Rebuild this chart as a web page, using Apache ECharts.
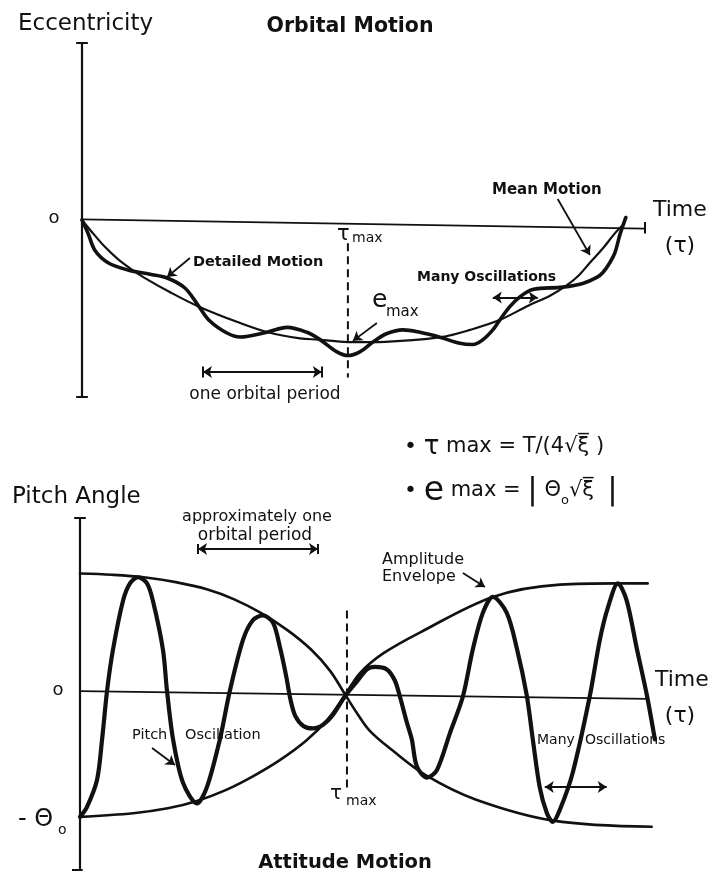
<!DOCTYPE html>
<html>
<head>
<meta charset="utf-8">
<script src="https://cdn.jsdelivr.net/npm/echarts@6.0.0/dist/echarts.min.js"></script>
<style>
html,body{margin:0;padding:0;background:#fff;}
#chart{width:711px;height:877px;}
</style>
</head>
<body>
<div id="chart"></div>
<script>
// ---------- Orbital motion (top panel): time tau (tau_max = 1), eccentricity (e_max = -1)
const meanTau = [0, 0.034, 0.086, 0.135, 0.19, 0.24, 0.33, 0.44, 0.59, 0.70, 0.82, 0.89, 1.0, 1.09, 1.20, 1.35, 1.46, 1.57, 1.68, 1.76, 1.82, 1.87, 1.91, 1.96, 2.00, 2.03];
const meanEcc = [0, -0.09, -0.22, -0.32, -0.41, -0.48, -0.59, -0.71, -0.84, -0.92, -0.97, -0.98, -1.0, -1.0, -0.99, -0.96, -0.90, -0.82, -0.70, -0.62, -0.54, -0.45, -0.35, -0.23, -0.12, -0.05];

const detailTau = [0, 0.023, 0.049, 0.098, 0.173, 0.256, 0.32, 0.387, 0.436, 0.481, 0.545, 0.594, 0.695, 0.771, 0.846, 0.895, 0.959, 1.0, 1.045, 1.094, 1.147, 1.207, 1.271, 1.346, 1.421, 1.47, 1.508, 1.545, 1.571, 1.609, 1.647, 1.695, 1.808, 1.883, 1.936, 1.959, 1.985, 2.004, 2.023, 2.045];
const detailEcc = [0, -0.11, -0.25, -0.35, -0.41, -0.445, -0.475, -0.557, -0.697, -0.828, -0.926, -0.959, -0.92, -0.88, -0.92, -0.98, -1.08, -1.11, -1.08, -1.0, -0.93, -0.90, -0.92, -0.96, -1.01, -1.02, -0.98, -0.90, -0.82, -0.71, -0.63, -0.57, -0.55, -0.52, -0.47, -0.43, -0.35, -0.27, -0.12, 0.02];

// ---------- Attitude motion (bottom panel): time tau, pitch angle (Theta_o = 1)
const envATau = [0, 0.12, 0.24, 0.36, 0.48, 0.58, 0.68, 0.78, 0.87, 0.94, 0.996, 1.04, 1.09, 1.17, 1.30, 1.49, 1.78, 2.15];
const envATheta = [0.98, 0.97, 0.95, 0.91, 0.85, 0.77, 0.66, 0.52, 0.36, 0.19, 0.0, -0.15, -0.30, -0.45, -0.66, -0.86, -1.03, -1.08];

const envBTau = [0, 0.2, 0.33, 0.44, 0.55, 0.65, 0.75, 0.85, 0.93, 0.996, 1.053, 1.14, 1.278, 1.553, 1.805, 2.02, 2.135];
const envBTheta = [-1.0, -0.97, -0.93, -0.87, -0.78, -0.67, -0.54, -0.38, -0.21, -0.01, 0.17, 0.33, 0.50, 0.79, 0.89, 0.90, 0.90];

const pitchTau = [0, 0.026, 0.064, 0.083, 0.102, 0.124, 0.162, 0.188, 0.218, 0.252, 0.274, 0.312, 0.327, 0.35, 0.387, 0.44, 0.477, 0.526, 0.564, 0.613, 0.65, 0.688, 0.726, 0.752, 0.775, 0.792, 0.81, 0.84, 0.876, 0.914, 0.951, 0.996, 1.041, 1.079, 1.109, 1.154, 1.184, 1.203, 1.229, 1.248, 1.267, 1.305, 1.342, 1.391, 1.44, 1.477, 1.515, 1.553, 1.605, 1.643, 1.68, 1.703, 1.729, 1.756, 1.778, 1.805, 1.853, 1.917, 1.955, 1.985, 2.023, 2.056, 2.094, 2.132, 2.162];
const pitchTheta = [-1.0, -0.92, -0.70, -0.37, 0.03, 0.36, 0.76, 0.90, 0.95, 0.90, 0.76, 0.36, 0.03, -0.37, -0.72, -0.89, -0.76, -0.37, 0.03, 0.44, 0.60, 0.64, 0.58, 0.38, 0.15, -0.05, -0.18, -0.26, -0.28, -0.25, -0.17, -0.02, 0.10, 0.20, 0.22, 0.20, 0.11, -0.02, -0.23, -0.37, -0.59, -0.68, -0.62, -0.32, -0.02, 0.36, 0.66, 0.79, 0.66, 0.37, -0.01, -0.37, -0.76, -0.97, -1.04, -0.94, -0.64, -0.02, 0.44, 0.70, 0.90, 0.76, 0.37, -0.01, -0.37];

// axis extents (data units)
const topAxisTau = [0, 2.117];
const topAxisEcc = [0.005, -0.07];
const botAxisTau = [0, 2.135];
const botAxisTheta = [0.024, -0.04];
const tauMax = 1.0;

const zip = (a, b) => a.map((v, i) => [v, b[i]]);
const INK = '#111';
const FONT = 'DejaVu Sans';

function curve(idx, data, width, extra) {
  return Object.assign({
    type: 'line', xAxisIndex: idx, yAxisIndex: idx, data: data,
    showSymbol: false, symbol: 'none', smooth: 0.35, silent: true, clip: false,
    lineStyle: { color: INK, width: width, cap: 'round', join: 'round' }, z: 3
  }, extra || {});
}
function segs(idx, list, width, sym, extra) {
  return Object.assign({
    type: 'lines', coordinateSystem: 'cartesian2d', xAxisIndex: idx, yAxisIndex: idx,
    symbol: sym, symbolSize: 9, silent: true, clip: false,
    lineStyle: { color: INK, width: width, opacity: 1, curveness: 0 },
    data: list.map(c => ({ coords: c })), z: 4
  }, extra || {});
}
function txt(x, y, s, size, o) {
  o = o || {};
  return {
    type: 'text', x: x, y: y, silent: true, z: 10,
    style: {
      text: s, fontSize: size, fontFamily: FONT, fontWeight: o.w || 'normal',
      fill: INK, align: o.a || 'left', verticalAlign: 'middle',
      textAlign: o.a || 'left', textVerticalAlign: 'middle', rich: o.rich
    }
  };
}

const series = [
  // top panel axes
  curve(0, [[0, 1.45], [0, -1.45]], 2.2, { smooth: false }),
  curve(0, zip(topAxisTau, topAxisEcc), 1.8, { smooth: false }),
  curve(0, [[tauMax, -0.19], [tauMax, -1.29]], 2, { smooth: false, lineStyle: { color: INK, width: 2, type: [8, 5] } }),
  // top curves
  curve(0, zip(meanTau, meanEcc), 2.2),
  curve(0, zip(detailTau, detailEcc), 3.6),
  // bottom panel axes
  curve(1, [[0, 1.43], [0, -1.43]], 2.2, { smooth: false }),
  curve(1, zip(botAxisTau, botAxisTheta), 1.8, { smooth: false }),
  curve(1, [[tauMax + 0.004, 0.68], [tauMax + 0.004, -0.78]], 2, { smooth: false, lineStyle: { color: INK, width: 2, type: [8, 5] } }),
  // bottom curves
  curve(1, zip(envATau, envATheta), 2.6),
  curve(1, zip(envBTau, envBTheta), 2.6),
  curve(1, zip(pitchTau, pitchTheta), 4.2, { smooth: 0.3 }),
  // axis end ticks and bar end ticks
  segs(0, [[[-0.022, 1.45], [0.022, 1.45]], [[-0.022, -1.45], [0.022, -1.45]], [[topAxisTau[1], -0.016], [topAxisTau[1], -0.11]],
           [[0.455, -1.2], [0.455, -1.29]], [[0.902, -1.2], [0.902, -1.29]]], 2, ['none', 'none']),
  segs(1, [[[-0.022, 1.43], [0.022, 1.43]], [[-0.03, -1.43], [0.01, -1.43]],
           [[0.444, 1.14], [0.444, 1.22]], [[0.895, 1.14], [0.895, 1.22]]], 2, ['none', 'none']),
  // annotation arrows
  segs(0, [[[0.406, -0.311], [0.320, -0.467]], [[1.109, -0.844], [1.019, -0.99]], [[1.789, 0.172], [1.910, -0.287]]], 1.8, ['none', 'arrow']),
  segs(0, [[[0.455, -1.246], [0.902, -1.246]], [[1.545, -0.635], [1.714, -0.635]]], 1.8, ['arrow', 'arrow']),
  segs(1, [[[1.44, 0.984], [1.523, 0.870]], [[0.271, -0.439], [0.357, -0.577]]], 1.8, ['none', 'arrow']),
  segs(1, [[[0.444, 1.179], [0.895, 1.179]], [[1.748, -0.756], [1.981, -0.756]]], 1.8, ['arrow', 'arrow'])
];

const graphics = [
  // top panel
  txt(18, 24, 'Eccentricity', 23),
  txt(350, 27, 'Orbital Motion', 20.5, { w: 'bold', a: 'center' }),
  txt(54, 218, 'o', 18, { a: 'center' }),
  txt(337, 235, 'τ', 21),
  txt(352, 238, 'max', 14),
  txt(193, 262, 'Detailed Motion', 14.5, { w: 'bold' }),
  txt(492, 190, 'Mean Motion', 15, { w: 'bold' }),
  txt(417, 277, 'Many Oscillations', 14, { w: 'bold' }),
  txt(372, 300, 'e', 25),
  txt(386, 312, 'max', 15),
  txt(265, 395, 'one orbital period', 17, { a: 'center' }),
  txt(653, 210, 'Time', 22),
  txt(680, 246, '(τ)', 22, { a: 'center' }),
  // formulas
  txt(404, 447, '{b|•} {t|τ} max = T/(4√ξ̅ )', 21, { rich: { b: { fontSize: 22, fontFamily: FONT }, t: { fontSize: 26, fontFamily: FONT } } }),
  txt(404, 491, '{b|•} {e|e} max = {v||} Θ{s|o}√ξ̅  {v||}', 21, { rich: { b: { fontSize: 22, fontFamily: FONT }, e: { fontSize: 33, fontFamily: FONT }, v: { fontSize: 31, fontFamily: FONT }, s: { fontSize: 13, fontFamily: FONT, verticalAlign: 'bottom' } } }),
  // bottom panel
  txt(12, 497, 'Pitch Angle', 23),
  txt(257, 517, 'approximately one', 16, { a: 'center' }),
  txt(255, 536, 'orbital period', 17, { a: 'center' }),
  txt(382, 560, 'Amplitude', 16),
  txt(382, 577, 'Envelope', 16),
  txt(58, 690, 'o', 18, { a: 'center' }),
  txt(18, 820, '- Θ', 24),
  txt(58, 830, 'o', 14),
  txt(132, 735, 'Pitch', 14.5),
  txt(185, 735, 'Oscillation', 14.5),
  txt(330, 794, 'τ', 20),
  txt(346, 801, 'max', 14),
  txt(537, 740, 'Many', 14),
  txt(585, 740, 'Oscillations', 14),
  txt(655, 680, 'Time', 22),
  txt(680, 716, '(τ)', 22, { a: 'center' }),
  txt(345, 863, 'Attitude Motion', 19.5, { w: 'bold', a: 'center' })
];

const chart = echarts.init(document.getElementById('chart'), null, { renderer: 'canvas' });
chart.setOption({
  animation: false,
  backgroundColor: '#fff',
  grid: [
    { left: 82, top: 43, width: 577, height: 354 },
    { left: 80, top: 517, width: 577, height: 354 }
  ],
  xAxis: [
    { type: 'value', gridIndex: 0, min: 0, max: 2.17, show: false },
    { type: 'value', gridIndex: 1, min: 0, max: 2.17, show: false }
  ],
  yAxis: [
    { type: 'value', gridIndex: 0, min: -1.45, max: 1.45, show: false },
    { type: 'value', gridIndex: 1, min: -1.44, max: 1.44, show: false }
  ],
  series: series,
  graphic: graphics
});
</script>
</body>
</html>
